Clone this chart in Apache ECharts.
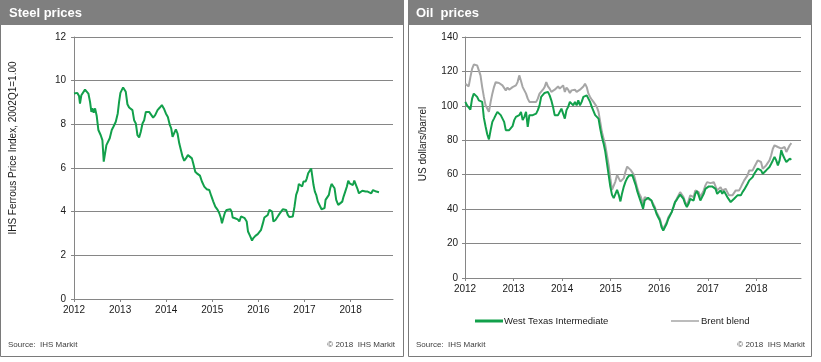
<!DOCTYPE html>
<html><head><meta charset="utf-8">
<script src="https://cdn.jsdelivr.net/npm/echarts@6/dist/echarts.min.js"></script>
<style>html,body{margin:0;padding:0;background:#fff}#c{width:821px;height:362px}</style>
</head><body><div id="c"></div>
<script>
// ---- Data ----
const titles = ['Steel prices', 'Oil  prices'];
const steelAxisName = 'IHS Ferrous Price Index, 2002Q1=1.00';
const oilAxisName = 'US dollars/barrel';
const seriesNames = ['West Texas Intermediate', 'Brent blend'];

const steelYears = [
 2012.000,2012.036,2012.072,2012.109,2012.130,2012.159,2012.196,2012.239,2012.275,2012.312,
 2012.348,2012.377,2012.399,2012.428,2012.457,2012.493,2012.529,2012.580,2012.616,2012.645,
 2012.674,2012.703,2012.732,2012.775,2012.819,2012.855,2012.877,2012.906,2012.949,2012.978,
 2013.007,2013.036,2013.065,2013.094,2013.123,2013.159,2013.196,2013.232,2013.268,2013.304,
 2013.341,2013.377,2013.413,2013.449,2013.486,2013.522,2013.558,2013.594,2013.630,2013.667,
 2013.717,2013.761,2013.812,2013.862,2013.906,2013.949,2013.993,2014.036,2014.080,2014.109,
 2014.138,2014.181,2014.210,2014.246,2014.283,2014.319,2014.355,2014.391,2014.428,2014.471,
 2014.514,2014.558,2014.587,2014.630,2014.681,2014.732,2014.775,2014.826,2014.877,2014.935,
 2014.978,2015.022,2015.065,2015.116,2015.152,2015.188,2015.210,2015.239,2015.275,2015.312,
 2015.355,2015.391,2015.420,2015.442,2015.493,2015.551,2015.587,2015.623,2015.659,2015.703,
 2015.746,2015.775,2015.819,2015.862,2015.891,2015.935,2015.986,2016.022,2016.058,2016.094,
 2016.130,2016.167,2016.203,2016.239,2016.268,2016.297,2016.326,2016.370,2016.420,2016.457,
 2016.493,2016.529,2016.565,2016.601,2016.638,2016.674,2016.710,2016.746,2016.783,2016.819,
 2016.855,2016.877,2016.906,2016.949,2016.978,2017.022,2017.051,2017.080,2017.109,2017.145,
 2017.167,2017.196,2017.225,2017.254,2017.290,2017.326,2017.370,2017.413,2017.435,2017.457,
 2017.493,2017.529,2017.558,2017.587,2017.616,2017.652,2017.688,2017.732,2017.775,2017.819,
 2017.848,2017.884,2017.920,2017.949,2017.978,2018.014,2018.051,2018.080,2018.109,2018.145,
 2018.181,2018.217,2018.254,2018.290,2018.326,2018.370,2018.413,2018.449,2018.486,2018.522,
 2018.558,2018.616
];
const steelIndex = [
 9.41,9.33,9.44,9.30,8.95,9.33,9.38,9.59,9.67,9.41,
 9.03,8.57,8.73,8.53,8.73,8.38,7.74,7.50,7.28,6.29,
 6.67,7.05,7.13,7.36,7.74,7.89,7.81,8.12,8.50,9.03,
 9.44,9.49,9.69,9.64,9.49,8.92,8.77,8.73,8.65,8.19,
 8.04,7.50,7.40,7.66,8.04,8.19,8.57,8.65,8.57,8.57,
 8.31,8.42,8.65,8.77,8.88,8.73,8.50,8.34,7.96,7.81,
 7.43,7.40,7.77,7.58,7.13,6.82,6.52,6.33,6.44,6.59,
 6.55,6.44,6.21,5.83,5.73,5.65,5.38,5.15,5.03,4.99,
 4.72,4.46,4.23,4.08,3.93,3.70,3.47,3.70,3.96,4.08,
 4.08,4.11,4.00,3.73,3.70,3.65,3.55,3.78,3.75,3.70,
 3.55,3.09,2.89,2.68,2.79,2.89,2.97,2.98,3.17,3.44,
 3.73,3.78,3.85,4.08,4.16,4.00,3.55,3.62,3.78,3.90,
 4.00,4.11,4.16,4.08,3.85,3.75,3.70,3.78,4.23,4.77,
 4.99,5.27,5.22,5.15,5.38,5.38,5.53,5.76,5.83,5.98,
 5.91,5.22,4.92,4.77,4.46,4.38,4.11,4.08,4.16,4.54,
 4.61,4.77,5.07,5.27,5.22,5.07,4.54,4.31,4.35,4.46,
 4.69,4.92,5.15,5.42,5.30,5.38,5.22,5.42,5.33,5.07,
 4.84,4.92,4.96,4.99,4.92,4.92,4.84,4.84,4.99,4.96,
 4.92,4.89
];

const oilYears = [
 2012.007,2012.042,2012.076,2012.111,2012.146,2012.181,2012.215,2012.250,2012.285,2012.319,
 2012.354,2012.389,2012.424,2012.458,2012.493,2012.528,2012.563,2012.597,2012.632,2012.667,
 2012.701,2012.736,2012.771,2012.806,2012.840,2012.875,2012.910,2012.944,2012.979,
 2013.014,2013.049,2013.083,2013.118,2013.153,2013.188,2013.222,2013.257,2013.292,2013.326,
 2013.361,2013.396,2013.431,2013.465,2013.500,2013.535,2013.569,2013.604,2013.639,2013.674,
 2013.708,2013.743,2013.778,2013.813,2013.847,2013.882,2013.917,2013.951,2013.986,
 2014.021,2014.056,2014.090,2014.125,2014.160,2014.194,2014.229,2014.264,2014.299,2014.333,
 2014.368,2014.403,2014.438,2014.472,2014.507,2014.542,2014.576,2014.611,2014.646,2014.681,
 2014.715,2014.750,2014.785,2014.819,2014.854,2014.889,2014.924,2014.958,2014.993,
 2015.028,2015.063,2015.097,2015.132,2015.167,2015.201,2015.236,2015.271,2015.306,2015.340,
 2015.375,2015.410,2015.444,2015.479,2015.514,2015.549,2015.583,2015.618,2015.653,
 2015.667,2015.701,
 2015.736,2015.771,2015.806,2015.840,2015.875,2015.910,2015.944,2015.979,
 2016.014,2016.049,2016.083,2016.118,2016.153,2016.188,2016.222,2016.257,2016.292,2016.326,
 2016.361,2016.396,2016.431,2016.465,2016.500,2016.535,2016.569,2016.604,2016.639,2016.674,
 2016.708,2016.743,2016.778,2016.813,2016.847,2016.882,2016.917,2016.951,2016.986,
 2017.021,2017.056,2017.090,2017.125,2017.160,2017.194,2017.229,2017.264,2017.299,2017.333,
 2017.368,2017.403,2017.438,2017.472,2017.507,2017.542,2017.576,2017.611,2017.646,2017.681,
 2017.715,2017.750,2017.785,2017.819,2017.854,2017.889,2017.924,2017.958,2017.993,
 2018.028,2018.063,2018.097,2018.132,2018.167,2018.201,2018.236,2018.271,2018.306,2018.340,
 2018.375,2018.410,2018.444,2018.479,2018.514,2018.549,2018.583,2018.618,2018.653,2018.688,
 2018.722
];
const wti = [
 102.3,100.3,99.4,97.8,104.2,107.1,106.1,105.2,103.2,102.3,
 102.3,93,88,83.5,80.5,85.9,90.7,92.6,94.6,96.5,
 97.5,94.6,93.6,90.7,85.9,86.8,85.9,86.8,88.2,91.7,
 93.6,92.6,94.6,96.5,91.7,93.6,96.5,87.8,94.6,93.6,
 94.6,95.5,95.5,97.5,100.3,105.2,106.1,107.5,107.1,108.1,
 106.1,103.2,99.4,94.6,93.6,94.6,96.5,98.4,95.5,92.6,
 97.5,99.4,102.3,101.3,100.3,102.3,100.3,103.2,100.3,102.3,
 105.2,104.2,106.1,105.2,102.3,99.4,98.4,94.6,93.6,92.6,
 86.8,82.0,78.2,73.4,66.6,59.9,53.1,48.3,46.4,45.4,
 51.2,48.3,44.5,49.3,53.1,56,58,59.3,58.9,59.9,
 58.9,54.1,50.3,47.4,44.5,41.6,
 40.2,45,46,46.6,46,45,42.1,40.2,37.3,35.3,
 33.4,29.5,27.6,27.6,31.5,34.4,36.3,38.3,41.2,44.1,
 45.4,47,48.5,48,46,43.1,41.2,43.1,46,47,
 45,48.9,50.5,48,45,44.1,48.9,51.8,52.8,53.2,
 52.4,53.2,53.8,51.8,48.9,48,50.9,48.9,50.5,49.9,
 47,46,44.1,45,46,47,48,48.9,48,49.9,
 51.3,52.4,54.8,56.7,57.7,58.6,60.6,62.1,63.5,64.5,
 62.5,60.6,61.6,62.5,62.1,64.5,66.4,68.3,70.3,68.3,
 65.4,68.3,74.2,71.3,69.3,67.4,68.3,69.3,68.7
];
const brent = [
 112.9,111.9,111.3,116.7,121.5,124,124.4,123.5,120.6,117.7,
 110.9,105.2,100.3,98.5,96.5,102.3,107.1,110.9,113.8,114.4,
 113.3,113.8,111.9,112.9,109.0,110.6,109.4,109.0,110.9,110.0,
 111.9,113.8,117.7,114.4,110.9,110.0,107.1,104.2,102.3,103.2,
 102.3,103.2,102.3,104.2,107.1,108.1,109.4,110.9,113.8,111.3,
 110.0,108.1,108.1,109.4,109.0,111.3,110.0,110.9,111.9,108.1,
 110.6,109.4,107.5,109.0,108.1,109.4,108.1,109.0,109.4,109.0,
 111.3,112.9,110.9,107.1,105.2,103.6,102.3,101.3,99.4,96.5,
 90.7,84.9,81.1,77.2,71.4,65.7,58,51.2,50.3,56,
 59.9,60.8,56,55.1,58,61.8,64.7,63.7,62.8,61.8,
 59.9,56,52.2,49.3,47.4,46.4,
 43.1,47,48,46,47,45,43.1,41.2,38.3,36.3,
 34.4,30.5,28.5,28.5,32.4,35.3,36.3,38.3,41.2,44.1,
 46,48,49.9,48.9,47,44.1,42.1,45,48,48.9,
 47,50.9,51.8,49.9,47,46,50.9,53.8,55.7,56.1,
 55.1,55.7,55.7,53.2,50.9,49.9,52.8,50.9,51.8,51.8,
 49.9,48,47,48,48.9,50.9,51.3,50.9,52.8,54.8,
 56.7,57.1,59.6,62.5,63.5,62.5,64.5,66.4,68.3,69.3,
 67.4,63.5,64.5,65.4,66.4,68.3,71.3,75.1,77.1,78.1,
 76.1,77.1,75.1,74.2,76.1,73.2,74.2,77.1,78.4
];

// ---- Chart ----
const FONT = '"Liberation Sans", Arial, sans-serif';
const GREEN = '#12a04b';
const GREY = '#a6a6a6';
const AX = '#868686';
const TXT = '#1a1a1a';

function pairs(xs, ys) { return xs.map((x, i) => [x, ys[i]]); }

function xAxisCfg(gridIndex) {
  return {
    type: 'value', gridIndex, min: 2012, max: 2018.92, interval: 1,
    axisLine: { show: true, lineStyle: { color: AX, width: 1 } },
    axisTick: { show: true, length: 3, lineStyle: { color: AX } },
    splitLine: { show: false },
    axisLabel: {
      margin: 6, color: TXT, fontSize: 10, fontFamily: FONT,
      showMaxLabel: false,
      formatter: v => (Math.abs(v - Math.round(v)) < 1e-6 ? String(Math.round(v)) : '')
    }
  };
}
function yAxisCfg(gridIndex, max, interval, margin) {
  return {
    type: 'value', gridIndex, min: 0, max, interval,
    axisLine: { show: true, lineStyle: { color: AX, width: 1 } },
    axisTick: { show: true, length: 3, lineStyle: { color: AX } },
    splitLine: { show: true, lineStyle: { color: AX, width: 1 } },
    axisLabel: { margin, color: TXT, fontSize: 10, fontFamily: FONT }
  };
}

const chart = echarts.init(document.getElementById('c'), null, { renderer: 'canvas' });
chart.setOption({
  animation: false,
  backgroundColor: '#fff',
  grid: [
    { left: 74, top: 37, width: 319, height: 262 },
    { left: 465, top: 37, width: 336, height: 241 }
  ],
  xAxis: [xAxisCfg(0), xAxisCfg(1)],
  yAxis: [yAxisCfg(0, 12, 2, 8), yAxisCfg(1, 140, 20, 7)],
  legend: [
    { data: [seriesNames[0]], left: 475, top: 316, padding: 0, icon: 'rect', itemWidth: 28, itemHeight: 3,
      textStyle: { color: TXT, fontSize: 9.5, fontFamily: FONT, padding: [0, 0, 0, -4] } },
    { data: [seriesNames[1]], left: 671, top: 316, padding: 0, icon: 'rect', itemWidth: 28, itemHeight: 1.5,
      textStyle: { color: TXT, fontSize: 9.5, fontFamily: FONT, padding: [0, 0, 0, -3] } }
  ],
  series: [
    { name: 'Steel', type: 'line', xAxisIndex: 0, yAxisIndex: 0, data: pairs(steelYears, steelIndex),
      showSymbol: false, symbol: 'none', lineStyle: { color: GREEN, width: 2 }, itemStyle: { color: GREEN } },
    { name: seriesNames[1], type: 'line', xAxisIndex: 1, yAxisIndex: 1, data: pairs(oilYears, brent),
      showSymbol: false, symbol: 'none', lineStyle: { color: GREY, width: 2 }, itemStyle: { color: GREY } },
    { name: seriesNames[0], type: 'line', xAxisIndex: 1, yAxisIndex: 1, data: pairs(oilYears, wti),
      showSymbol: false, symbol: 'none', lineStyle: { color: GREEN, width: 2 }, itemStyle: { color: GREEN } }
  ],
  graphic: [
    { type: 'rect', shape: { x: 0.5, y: 0.5, width: 403, height: 356 }, style: { fill: 'none', stroke: '#7a7a7a', lineWidth: 1 }, silent: true },
    { type: 'rect', shape: { x: 408.5, y: 0.5, width: 403, height: 356 }, style: { fill: 'none', stroke: '#7a7a7a', lineWidth: 1 }, silent: true },
    { type: 'rect', shape: { x: 0, y: 0, width: 404, height: 25 }, style: { fill: '#7f7f7f' }, silent: true },
    { type: 'rect', shape: { x: 408, y: 0, width: 404, height: 25 }, style: { fill: '#7f7f7f' }, silent: true },
    { type: 'text', x: 9, y: 13, style: { text: titles[0], fill: '#fff', font: 'bold 13px ' + FONT, textVerticalAlign: 'middle' }, silent: true },
    { type: 'text', x: 416, y: 13, style: { text: titles[1], fill: '#fff', font: 'bold 13px ' + FONT, textVerticalAlign: 'middle', whiteSpace: 'pre' }, silent: true },
    { type: 'text', x: 13, y: 148, rotation: Math.PI / 2, style: { text: steelAxisName, fill: TXT, font: '10px ' + FONT, textAlign: 'center', textVerticalAlign: 'middle' }, silent: true },
    { type: 'text', x: 423, y: 144, rotation: Math.PI / 2, style: { text: oilAxisName, fill: TXT, font: '10px ' + FONT, textAlign: 'center', textVerticalAlign: 'middle' }, silent: true },
    { type: 'text', x: 8, y: 345, style: { text: 'Source:  IHS Markit', fill: '#404040', font: '8px ' + FONT, textVerticalAlign: 'middle' }, silent: true },
    { type: 'text', x: 395, y: 345, style: { text: '© 2018  IHS Markit', fill: '#404040', font: '8px ' + FONT, textAlign: 'right', textVerticalAlign: 'middle' }, silent: true },
    { type: 'text', x: 416, y: 345, style: { text: 'Source:  IHS Markit', fill: '#404040', font: '8px ' + FONT, textVerticalAlign: 'middle' }, silent: true },
    { type: 'text', x: 805, y: 345, style: { text: '© 2018  IHS Markit', fill: '#404040', font: '8px ' + FONT, textAlign: 'right', textVerticalAlign: 'middle' }, silent: true }
  ]
});
</script>
</body></html>
